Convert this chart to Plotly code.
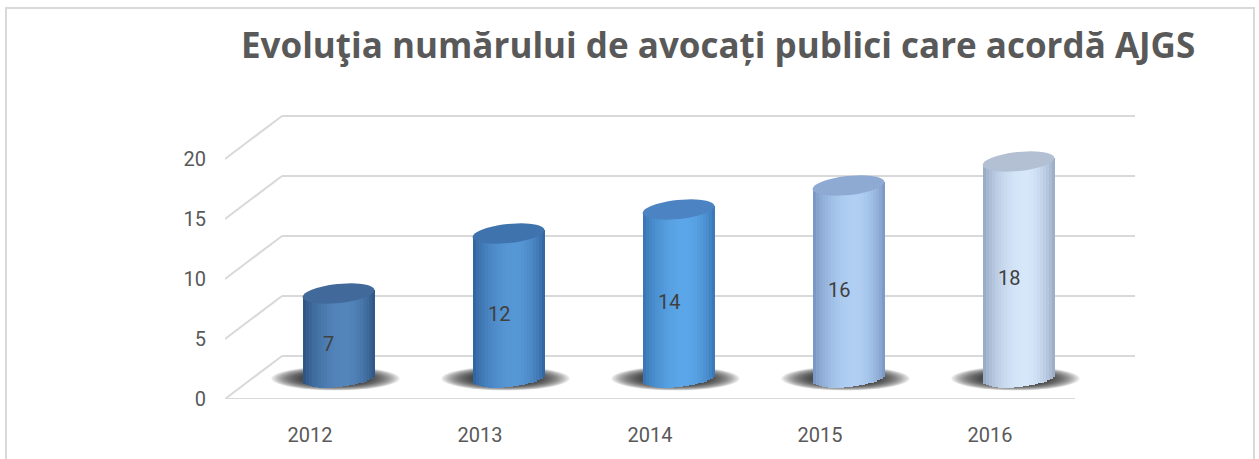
import math
import plotly.graph_objects as go

# ---------------- data ----------------
years = ["2012", "2013", "2014", "2015", "2016"]
values = [7, 12, 14, 16, 18]
y_ticks = [0, 5, 10, 15, 20]
title_text = "Evoluţia numărului de avocați publici care acordă AJGS"

# ---------------- styles ----------------
edge_cols = ["#2b4f7d", "#2d5f99", "#3670ae", "#7391bc", "#91a4bf"]
high_cols = ["#5385bb", "#5697d5", "#5ba6e8", "#b0cff3", "#d6e7fa"]
top_cols = ["#41699a", "#3f73ae", "#4b83c3", "#8eaad3", "#b3c0d3"]
grid_col = "#d9d9d9"
text_col = "#595959"

W, H = 1259, 459
L, R_PX, BOT = 225, 1135, 399          # plot area pixel bounds
PX_X = 170.0                            # px per category
PX_Y = 12.0                             # px per value unit
DX = 57.0 / PX_X                        # depth offset (x, category units)
DY = 43.0 / PX_Y                        # depth offset (y, value units)
YMAX = 24.0
TOP = BOT - YMAX * PX_Y
XMIN = -0.5
XMAX = XMIN + (R_PX - L) / PX_X

A_PX = 36.0        # cylinder half width (px)
EB_PX = 9.5        # ellipse half height (px)
TILT = math.radians(6)
B0 = DY / 2        # base of cylinders (mid depth)
NS = 24
w_units = 2 * A_PX / PX_X
sw = w_units / NS


def mix(c1, c2, s):
    a = [int(c1[i:i + 2], 16) for i in (1, 3, 5)]
    b = [int(c2[i:i + 2], 16) for i in (1, 3, 5)]
    return "rgb(%d,%d,%d)" % tuple(round(a[j] + (b[j] - a[j]) * s) for j in range(3))


def shade(u):
    pk = 0.58
    if u < pk:
        return math.sin(math.pi / 2 * u / pk) ** 0.7
    return math.sin(math.pi / 2 * (1 - u) / (1 - pk)) ** 0.7


fig = go.Figure()
xc = [i + DX / 2 for i in range(len(years))]

# cylinder bodies as vertical slices
for k in range(NS):
    u = (k + 0.5) / NS
    xoff_px = (-w_units / 2 + (k + 0.5) * sw) * PX_X
    t = max(-1.0, min(1.0, xoff_px / A_PX))
    tilt_px = xoff_px * math.tan(TILT)
    bases, lens, cols = [], [], []
    for i, v in enumerate(values):
        b = B0 + (tilt_px - EB_PX * math.sqrt(max(0.0, 1 - t * t))) / PX_Y
        top = B0 + v + tilt_px / PX_Y
        bases.append(b)
        lens.append(top - b)
        cols.append(mix(edge_cols[i], high_cols[i], shade(u)))
    wdt = sw * (1.35 if k < NS - 1 else 1.0)
    fig.add_trace(go.Bar(
        x=xc, y=lens, base=bases, width=wdt,
        offset=-w_units / 2 + k * sw,
        marker=dict(color=cols, line=dict(width=0)),
        hoverinfo="skip", showlegend=False,
    ))

shapes = []
# back wall gridlines + diagonals
for tv in y_ticks:
    shapes.append(dict(type="line", xref="x", yref="y", layer="below",
                       x0=XMIN + DX, x1=XMAX, y0=tv + DY, y1=tv + DY,
                       line=dict(color=grid_col, width=2)))
    shapes.append(dict(type="line", xref="x", yref="y", layer="below",
                       x0=XMIN, x1=XMIN + DX, y0=tv, y1=tv + DY,
                       line=dict(color=grid_col, width=2)))
# front floor line
shapes.append(dict(type="line", xref="x", yref="y", layer="below",
                   x0=XMIN, x1=XMIN + len(years), y0=0, y1=0,
                   line=dict(color=grid_col, width=2)))

# soft shadows
NSH = 14
for i in range(len(years)):
    for j in range(NSH):
        f = j / (NSH - 1)
        ax = (64 - 28 * f) / PX_X
        ay = (12 - 5 * f) / PX_Y
        cx = xc[i] - 3 / PX_X
        cy = B0 - 1.0 / PX_Y
        shapes.append(dict(type="circle", xref="x", yref="y", layer="below",
                           x0=cx - ax, x1=cx + ax, y0=cy - ay, y1=cy + ay,
                           fillcolor="rgba(25,25,25,0.10)", line=dict(width=0)))


def ellipse_path(cx, cy, a_px, b_px, th, n=48):
    pts = []
    for m in range(n):
        ang = 2 * math.pi * m / n
        X = a_px * math.cos(ang) * math.cos(th) - b_px * math.sin(ang) * math.sin(th)
        Y = a_px * math.cos(ang) * math.sin(th) + b_px * math.sin(ang) * math.cos(th)
        pts.append((cx + X / PX_X, cy + Y / PX_Y))
    s = "M %.5f %.5f " % pts[0] + " ".join("L %.5f %.5f" % p for p in pts[1:]) + " Z"
    return s


# top caps
for i, v in enumerate(values):
    shapes.append(dict(type="path", xref="x", yref="y", layer="above",
                       path=ellipse_path(xc[i], B0 + v, A_PX, EB_PX, TILT),
                       fillcolor=top_cols[i], line=dict(width=0)))


def px2paper_x(px):
    return (px - L) / (R_PX - L)


def px2paper_y(py):
    return (BOT - py) / (BOT - TOP)


# frame
shapes.append(dict(type="rect", xref="paper", yref="paper", layer="below",
                   x0=px2paper_x(6), x1=px2paper_x(1254),
                   y0=px2paper_y(480), y1=px2paper_y(8),
                   line=dict(color="#d9d9d9", width=2), fillcolor="rgba(0,0,0,0)"))

annotations = []
for i, v in enumerate(values):
    annotations.append(dict(x=xc[i], y=B0 + v / 2, xref="x", yref="y",
                            text=str(v), showarrow=False, xshift=-10, yshift=-8,
                            font=dict(family="Roboto, sans-serif", size=20, color="#404040")))
annotations.append(dict(x=px2paper_x(718), y=px2paper_y(44), xref="paper", yref="paper",
                        text="<b>" + title_text + "</b>", showarrow=False,
                        xanchor="center", yanchor="middle",
                        font=dict(family="Open Sans, sans-serif", size=35, color=text_col)))

fig.update_layout(
    width=W, height=H,
    margin=dict(l=L, r=W - R_PX, t=TOP, b=H - BOT, pad=0),
    paper_bgcolor="white", plot_bgcolor="white",
    barmode="overlay", bargap=0,
    shapes=shapes, annotations=annotations,
    xaxis=dict(range=[XMIN, XMAX], tickvals=list(range(len(years))), ticktext=years,
               showgrid=False, zeroline=False, showline=False, ticks="",
               ticklabelstandoff=22,
               tickfont=dict(family="Roboto, sans-serif", size=20, color=text_col)),
    yaxis=dict(range=[0, YMAX], tickvals=y_ticks, showgrid=False, zeroline=False,
               showline=False, ticks="", ticklabelstandoff=18,
               tickfont=dict(family="Roboto, sans-serif", size=20, color=text_col)),
)

fig.write_html("out.html", config={"displayModeBar": False},
               post_script="document.body.style.margin='0';document.body.style.overflow='hidden';")
